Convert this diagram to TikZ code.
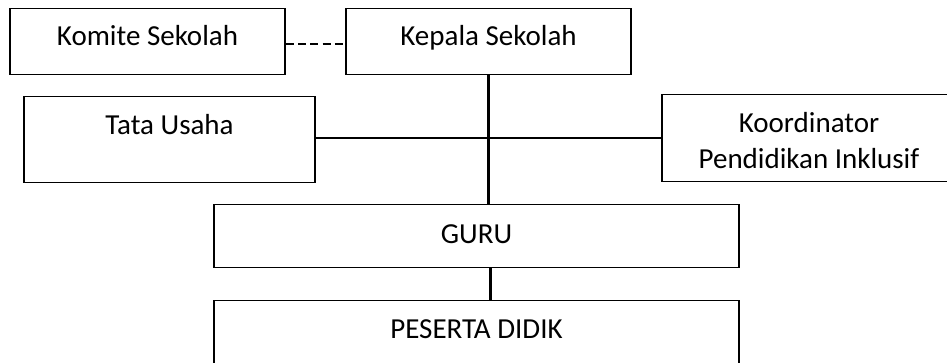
\documentclass[tikz,border=0pt]{standalone}
\usepackage{fontspec}
\setmainfont{Carlito}
\begin{document}
\begin{tikzpicture}[x=0.75pt,y=-0.75pt,
  every node/.style={font=\fontsize{21.75}{27}\selectfont, text=black},
  orgbox/.style={draw=black, line width=1.1pt, fill=white, rectangle, inner xsep=0pt, inner ysep=0pt, anchor=north},
  link/.style={draw=black, line width=1.7pt},
  dashlink/.style={draw=black, line width=1.7pt, dash pattern=on 6pt off 3.2pt}]
\clip (0,0) rectangle (947,362);
\fill[white] (0,0) rectangle (947,362);
\node[orgbox, minimum width=206.25pt, text height=27.75pt, text depth=21.75pt] (komite) at (147.5,8) {Komite Sekolah};
\node[orgbox, minimum width=213.75pt, text height=27.75pt, text depth=21.75pt] (kepala) at (488.5,8) {Kepala Sekolah};
\node[orgbox, minimum width=218.25pt, text height=28.5pt, text depth=36pt] (tata) at (169.5,96) {Tata Usaha};
\node[orgbox, minimum width=220.5pt, text height=55.5pt, text depth=9.75pt] (koord) at (809,94) {\begin{tabular}[b]{@{}c@{}}Koordinator\\Pendidikan Inklusif\end{tabular}};
\node[orgbox, minimum width=393.75pt, text height=29.25pt, text depth=18pt] (guru) at (476.5,204) {GURU};
\node[orgbox, minimum width=393.75pt, text height=28.5pt, text depth=46.5pt] (peserta) at (476.5,300) {PESERTA DIDIK};
\draw[dashlink] ([yshift=-1.5pt]komite.east) -- ([yshift=-1.5pt]kepala.west);
\draw[link] (kepala.south) -- (kepala.south |- guru.north);
\draw[link] (tata.east |- koord.west) -- (koord.west);
\draw[link] ([xshift=1.5pt]kepala.south |- guru.south) -- ([xshift=1.5pt]kepala.south |- peserta.north);
\end{tikzpicture}
\end{document}
